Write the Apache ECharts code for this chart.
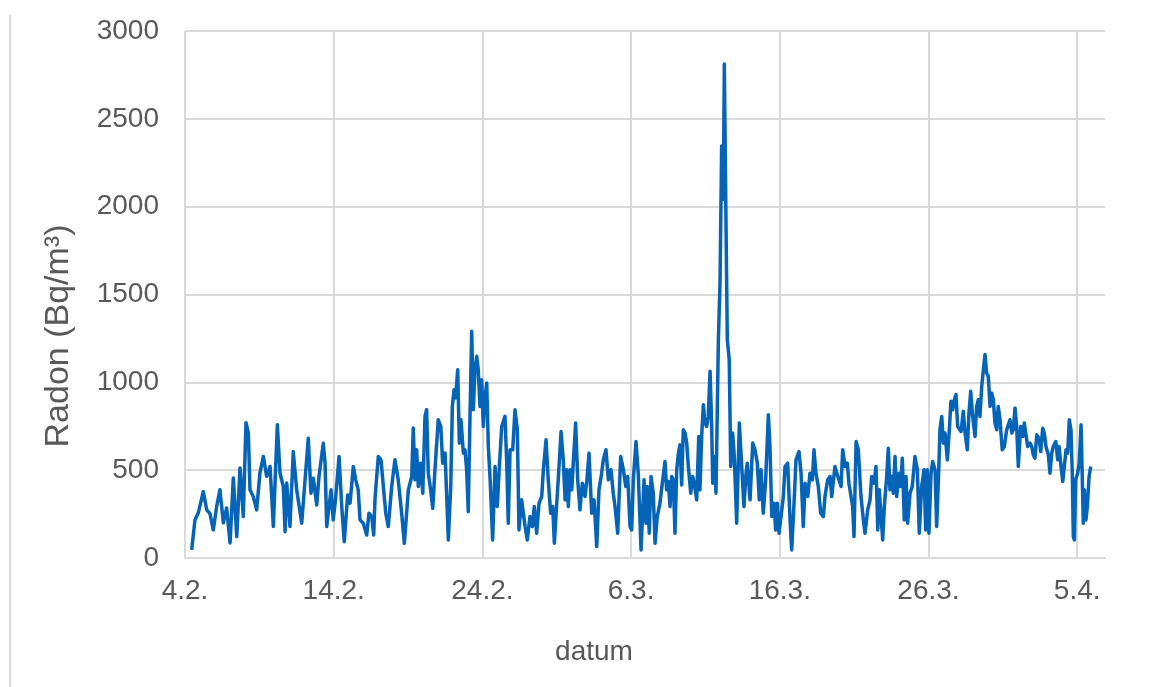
<!DOCTYPE html>
<html>
<head>
<meta charset="utf-8">
<title>Radon</title>
<script src="https://cdn.jsdelivr.net/npm/echarts@6/dist/echarts.min.js"></script>
<style>
  html, body { margin: 0; padding: 0; background: #fff; }
  #chart { width: 1153px; height: 687px; }
</style>
</head>
<body>
<div id="chart"></div>
<script>
// measurement start: 4.2. (days counted from midnight)
var startDate = Date.UTC(2023, 1, 4);

// time of each reading, in days after 4.2.
var days = [
  0.45,0.67,0.89,1.23,1.46,1.68,1.90,2.13,2.35,2.58,
  2.80,3.03,3.25,3.48,3.70,3.92,4.10,4.26,4.37,4.59,
  4.82,5.04,5.27,5.49,5.72,5.94,6.21,6.39,6.61,6.73,
  6.84,7.06,7.28,7.51,
  7.85,7.96,8.29,8.47,8.63,8.86,9.01,9.30,9.42,9.53,
  9.64,9.82,9.97,10.13,10.36,10.54,10.71,10.94,11.10,11.32,
  11.48,11.65,11.77,11.99,12.22,12.37,12.56,12.69,12.78,13.00,
  13.18,13.34,13.50,13.67,13.90,14.12,14.34,14.57,14.75,15.02,
  15.25,15.35,15.47,15.58,15.69,15.85,15.99,16.14,16.25,16.36,
  16.52,16.66,16.81,17.03,17.20,17.33,17.49,17.60,17.71,17.87,
  17.98,18.09,18.20,18.34,18.45,18.56,18.72,18.83,18.94,19.05,
  19.17,19.28,19.39,19.50,19.62,19.72,19.84,19.95,20.06,20.18,
  20.29,20.40,20.51,20.69,20.85,21.00,21.14,21.30,21.52,21.63,
  21.74,21.86,22.04,22.19,22.35,22.46,22.64,22.87,23.02,
  23.20,23.36,23.49,23.65,23.81,23.99,24.10,24.28,24.43,24.59,
  24.73,24.84,25.00,25.10,25.29,25.44,25.56,25.67,25.78,25.89,
  26.01,26.11,26.27,26.41,26.56,26.72,26.90,27.03,27.17,27.35,
  27.51,27.69,27.84,28.02,28.13,28.31,28.47,28.65,28.80,28.92,
  29.10,29.30,29.48,29.64,29.77,29.93,30.04,30.15,30.33,30.48,
  30.67,
  30.87,31.00,31.09,31.22,31.34,31.49,31.61,31.76,31.94,32.06,
  32.17,32.28,32.39,32.50,32.62,32.73,32.84,32.95,33.07,33.18,
  33.29,33.40,33.51,33.63,33.74,33.85,34.01,34.14,34.25,34.41,
  34.55,34.63,34.75,34.86,34.97,35.08,35.19,35.31,35.42,35.49,
  35.58,35.71,35.87,35.98,36.09,36.20,36.27,36.36,36.47,36.60,
  36.70,36.83,36.94,37.10,37.28,37.44,37.59,37.73,37.81,38.00,
  38.18,38.33,38.49,38.62,
  38.74,38.89,39.05,39.23,39.34,39.46,39.61,39.72,39.83,39.95,
  40.08,40.24,40.35,40.53,40.69,40.80,40.98,41.09,41.29,41.43,
  41.58,41.70,41.88,42.03,42.19,42.30,42.43,42.59,42.75,42.93,
  43.04,43.22,43.38,43.49,43.71,43.83,43.98,44.12,44.23,44.39,
  44.54,44.65,44.79,44.90,44.99,45.13,45.28,45.46,45.62,45.73,
  45.91,46.07,
  46.18,46.34,46.47,46.59,46.69,46.81,46.92,47.03,47.19,47.30,
  47.41,47.55,47.63,47.75,47.86,48.02,48.13,48.24,48.37,48.49,
  48.60,48.76,48.91,49.09,49.25,49.38,49.54,49.70,49.81,49.92,
  50.03,50.17,50.28,50.44,50.55,50.69,50.77,50.89,51.00,51.11,
  51.27,51.40,51.51,51.63,51.74,51.85,51.96,52.07,52.19,52.34,
  52.46,52.61,52.72,52.84,52.97,53.13,53.24,53.35,53.46,53.58,
  53.69,53.80,53.91,54.02,54.14,
  54.25,54.36,54.47,54.59,54.69,54.81,54.96,55.10,55.26,55.37,
  55.48,55.60,55.70,55.82,55.93,56.04,56.20,56.34,56.44,56.56,
  56.67,56.83,56.94,57.05,57.16,57.28,57.43,57.55,57.68,57.79,
  57.90,58.06,58.17,58.29,58.39,58.56,58.69,58.78,58.91,59.03,
  59.13,59.25,59.36,59.47,59.58,59.67,59.74,59.81,59.90,60.03,
  60.14,60.26,60.34,60.41,60.48,60.59,60.68,60.80,60.91
];

// radon concentration, Bq/m3
var radon = [
  46,217,256,378,274,252,160,293,388,200,
  285,86,456,122,513,236,770,713,388,350,
  274,484,578,465,521,180,758,484,407,150,
  427,180,606,388,
  198,207,682,369,454,302,464,654,540,179,
  179,388,217,340,578,293,93,359,312,521,
  445,388,217,198,131,255,236,131,340,578,
  559,407,255,179,407,559,445,255,84,388,
  464,740,445,616,407,540,369,806,844,483,
  388,283,502,787,749,540,597,597,103,407,
  863,958,911,1072,654,787,597,616,502,264,
  825,1291,844,1072,1148,1072,863,1015,749,920,
  996,635,464,103,521,293,521,749,806,559,
  198,616,616,844,730,160,331,179,103,
  236,179,293,141,312,350,502,673,445,255,
  293,84,312,445,720,559,331,502,293,502,
  388,540,768,445,274,426,350,445,597,255,
  331,65,388,483,559,616,445,502,369,293,
  141,578,502,407,464,179,160,445,663,483,
  46,
  445,198,407,141,464,369,84,236,312,397,
  407,549,388,435,293,464,445,141,502,597,
  644,416,730,711,654,521,369,464,426,331,
  692,388,701,873,768,749,806,1063,749,426,
  578,369,1243,1566,2346,2042,2812,2080,1243,1129,
  521,711,578,198,768,521,293,483,540,331,
  654,616,540,331,
  502,255,445,816,635,236,312,160,312,141,
  131,350,521,540,217,46,350,559,606,483,
  179,426,350,483,445,616,483,407,255,236,
  350,445,464,350,521,483,445,407,616,521,
  540,426,350,293,122,663,616,350,217,141,
  274,331,
  464,426,521,160,388,388,103,293,464,625,
  388,464,369,578,350,483,407,568,217,464,
  198,369,407,578,502,141,407,502,160,502,
  141,483,549,502,179,502,730,806,654,711,
  559,730,892,844,901,930,749,749,720,835,
  711,616,825,949,806,692,863,901,806,977,
  1072,1158,1053,1034,863,
  939,901,768,730,863,787,616,635,730,730,
  787,711,730,854,749,521,749,692,768,777,
  635,654,635,587,568,701,682,606,739,711,
  635,587,483,597,635,663,559,635,521,435,
  426,616,597,787,730,483,122,103,445,483,
  540,758,464,198,388,217,293,464,521
];

var yTicks = [0, 500, 1000, 1500, 2000, 2500, 3000];
var xTickDays = [0, 10, 20, 30, 40, 50, 60];

var textColor = '#595959';
var gridColor = '#d9d9d9';
var fontFamily = "'Liberation Sans', Arial, sans-serif";
var fontSize = 28;

function dayLabel(v) {
  var d = new Date(startDate + v * 86400000);
  return d.getUTCDate() + '.' + (d.getUTCMonth() + 1) + '.';
}

var seriesData = days.map(function (d, i) { return [d, radon[i]]; });

var chart = echarts.init(document.getElementById('chart'));

var option = {
  animation: false,
  backgroundColor: '#fff',
  grid: { left: 185, top: 31, right: 48, bottom: 129, containLabel: false },
  xAxis: {
    type: 'value',
    min: xTickDays[0],
    max: 61.87,
    interval: 10,
    axisLine: { show: true, lineStyle: { color: gridColor, width: 2 } },
    axisTick: { show: false },
    axisLabel: {
      color: textColor, fontSize: fontSize, fontFamily: fontFamily, margin: 19,
      showMaxLabel: false,
      formatter: function (v) { return xTickDays.indexOf(v) >= 0 ? dayLabel(v) : ''; }
    },
    splitLine: {
      show: true,
      lineStyle: { color: [gridColor, gridColor, gridColor, gridColor, gridColor, gridColor, gridColor, 'rgba(0,0,0,0)'], width: 2 }
    }
  },
  yAxis: {
    type: 'value',
    min: yTicks[0],
    max: yTicks[yTicks.length - 1],
    interval: 500,
    axisLine: { show: false },
    axisTick: { show: false },
    axisLabel: {
      color: textColor, fontSize: fontSize, fontFamily: fontFamily, margin: 26,
      formatter: function (v) { return String(v); }
    },
    splitLine: { show: true, lineStyle: { color: gridColor, width: 2 } }
  },
  series: [{
    type: 'line',
    data: seriesData,
    showSymbol: false,
    symbol: 'none',
    lineStyle: { color: '#0563b8', width: 3.5, join: 'round' },
    itemStyle: { color: '#0563b8' }
  }],
  graphic: [
    {
      type: 'line',
      shape: { x1: 10, y1: 15, x2: 10, y2: 687 },
      style: { stroke: gridColor, lineWidth: 2 }
    },
    {
      type: 'text',
      x: 594, y: 652,
      style: {
        text: 'datum', fill: textColor, font: fontSize + 'px ' + fontFamily,
        textAlign: 'center', textVerticalAlign: 'middle'
      }
    },
    {
      type: 'text',
      x: 59, y: 336,
      rotation: Math.PI / 2,
      style: {
        text: 'Radon (Bq/m³)', fill: textColor, font: '34px ' + fontFamily,
        textAlign: 'center', textVerticalAlign: 'middle'
      }
    }
  ]
};

chart.setOption(option);
</script>
</body>
</html>
